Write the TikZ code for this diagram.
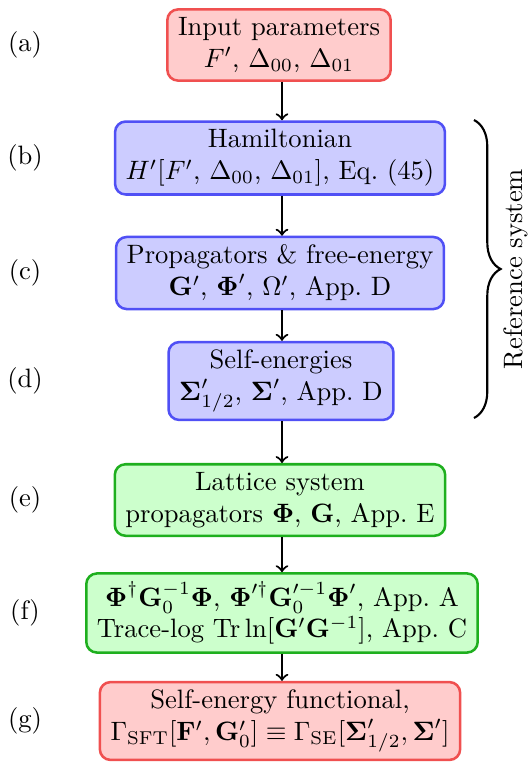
\documentclass[tikz,border=0pt]{standalone}
\usepackage{amsmath,amssymb}
\usetikzlibrary{decorations.pathreplacing}
\definecolor{rfill}{RGB}{255,204,204}
\definecolor{rdraw}{RGB}{240,80,80}
\definecolor{bfill}{RGB}{204,204,255}
\definecolor{bdraw}{RGB}{80,80,245}
\definecolor{gfill}{RGB}{204,255,204}
\definecolor{gdraw}{RGB}{30,175,30}
\tikzset{
  box/.style={rounded corners=4pt, line width=0.95pt, align=center, inner xsep=4pt, inner ysep=3pt},
  rbox/.style={box, fill=rfill, draw=rdraw},
  bbox/.style={box, fill=bfill, draw=bdraw},
  gbox/.style={box, fill=gfill, draw=gdraw},
  conn/.style={->, thick},
  tag/.style={inner sep=0pt}
}
\begin{document}
\begin{tikzpicture}[x=0.376pt,y=-0.376pt]
\useasboundingbox (0,0) rectangle (528,766);
\node[rbox] (a) at (279,45) {Input parameters\\ $F'$, $\Delta_{00}$, $\Delta_{01}$};
\node[bbox] (b) at (280,158) {Hamiltonian\\ $H'[F'$, $\Delta_{00}$, $\Delta_{01}]$, Eq.~(45)};
\node[bbox] (c) at (280,273) {Propagators \& free-energy\\ $\mathbf{G}'$, $\boldsymbol{\Phi}'$, $\Omega'$, App.~D};
\node[bbox] (d) at (281,381) {Self-energies\\ $\boldsymbol{\Sigma}'_{1/2}$, $\boldsymbol{\Sigma}'$, App.~D};
\node[gbox] (e) at (280,500) {Lattice system\\ propagators $\boldsymbol{\Phi}$, $\mathbf{G}$, App.~E};
\node[gbox] (f) at (282,613) {$\boldsymbol{\Phi}^\dagger\mathbf{G}_0^{-1}\boldsymbol{\Phi}$, $\boldsymbol{\Phi}'^\dagger\mathbf{G}_0'^{-1}\boldsymbol{\Phi}'$, App.~A\\ Trace-log $\mathrm{Tr}\ln[\mathbf{G}'\mathbf{G}^{-1}]$, App.~C};
\node[rbox] (g) at (280,721) {Self-energy functional,\\ $\Gamma_{\mathrm{SFT}}[\mathbf{F}',\mathbf{G}_0'] \equiv \Gamma_{\mathrm{SE}}[\boldsymbol{\Sigma}'_{1/2},\boldsymbol{\Sigma}']$};
\foreach \p/\q in {a/b,b/c,c/d,d/e,e/f,f/g}
  \draw[conn] (\p.south -| 282,0) -- (\q.north -| 282,0);
\node[tag] (la) at (25,45) {(a)};
\node[tag] (lb) at (25,158) {(b)};
\node[tag] (lc) at (25,273) {(c)};
\node[tag] (ld) at (25,381) {(d)};
\node[tag] (le) at (25,500) {(e)};
\node[tag] (lf) at (25,613) {(f)};
\node[tag] (lg) at (25,721) {(g)};
\coordinate (bt) at (474,120);
\coordinate (bb) at (474,418);
\draw[thick, decoration={brace, amplitude=10pt}, decorate] (bt) -- (bb);
\node[tag, rotate=90] (ref) at (516,269) {Reference system};
\end{tikzpicture}
\end{document}
